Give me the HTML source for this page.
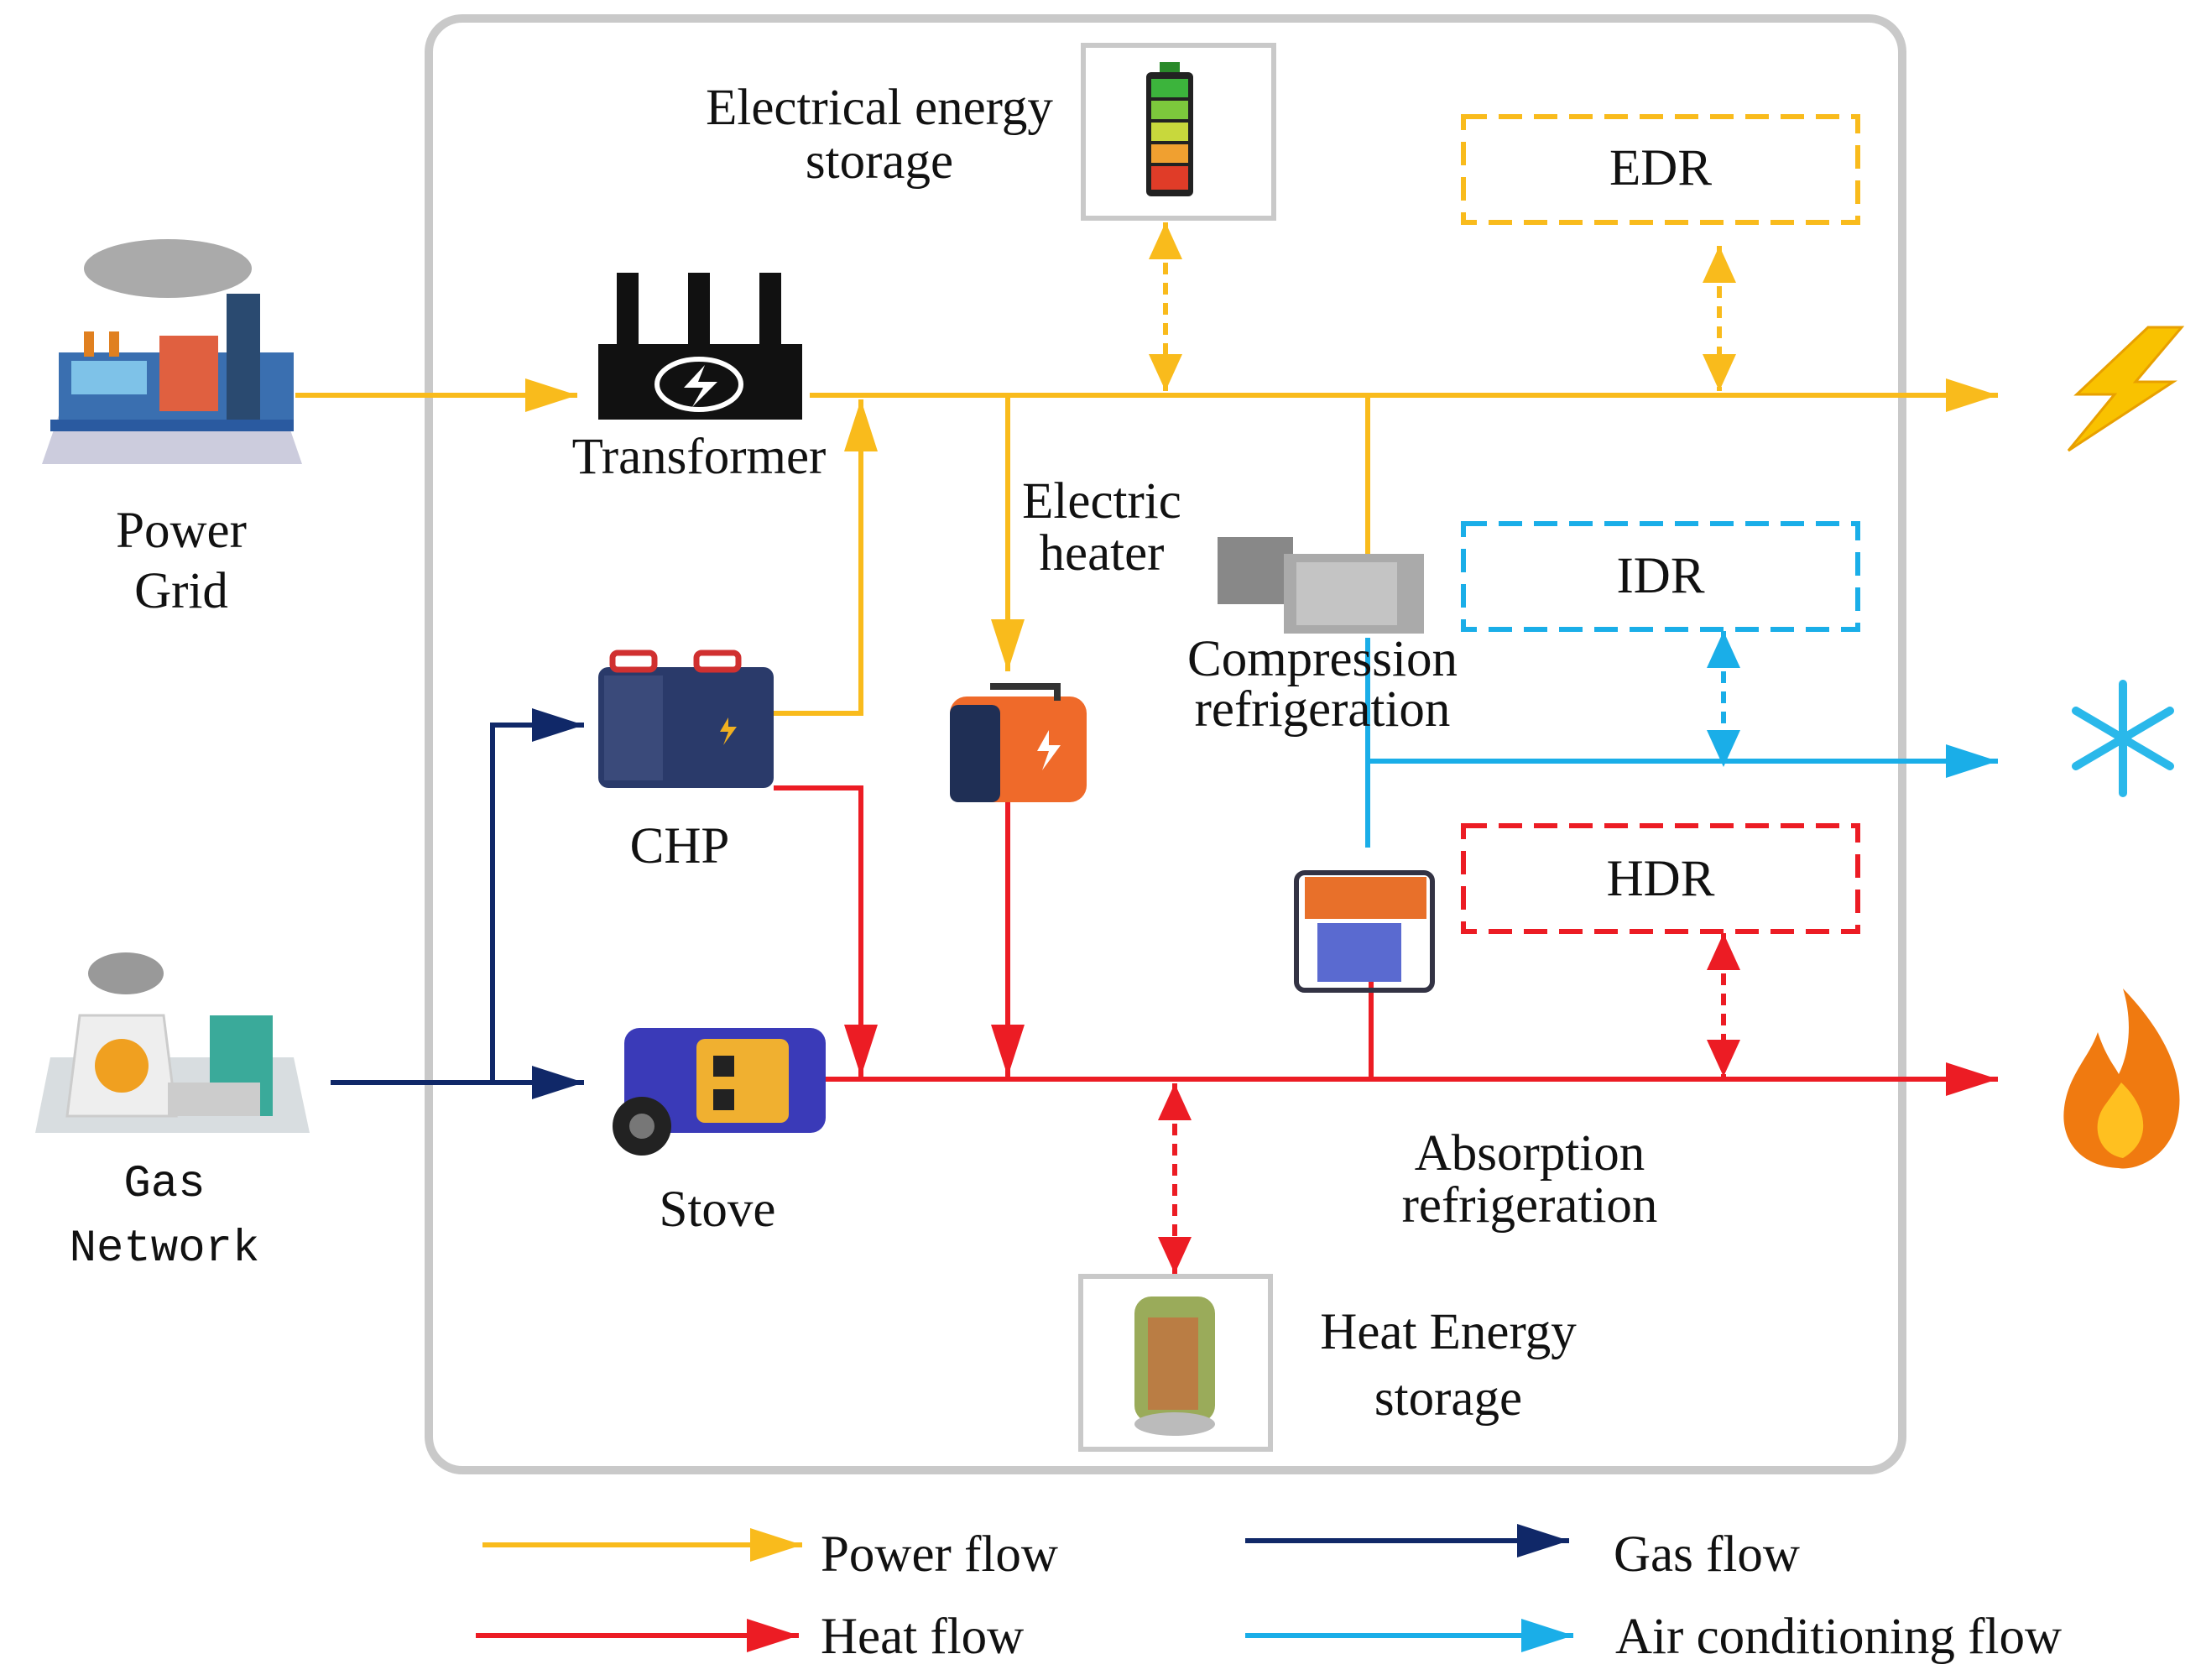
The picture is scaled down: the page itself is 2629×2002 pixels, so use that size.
<!DOCTYPE html>
<html><head><meta charset="utf-8"><style>
html,body{margin:0;padding:0;background:#fff}
svg text{font-family:"Liberation Serif",serif;font-size:61px;fill:#111}
</style></head><body>
<svg width="2629" height="1997" viewBox="0 0 2629 1997" xmlns="http://www.w3.org/2000/svg">
<defs>
<marker id="ay" markerWidth="62" markerHeight="40" refX="12" refY="4" orient="auto-start-reverse" markerUnits="userSpaceOnUse" viewBox="0 0 12 8" preserveAspectRatio="none"><path d="M0,0 L12,4 L0,8 z" fill="#f9bb1c"/></marker>
<marker id="ar" markerWidth="62" markerHeight="40" refX="12" refY="4" orient="auto-start-reverse" markerUnits="userSpaceOnUse" viewBox="0 0 12 8" preserveAspectRatio="none"><path d="M0,0 L12,4 L0,8 z" fill="#ec1c24"/></marker>
<marker id="ab" markerWidth="62" markerHeight="40" refX="12" refY="4" orient="auto-start-reverse" markerUnits="userSpaceOnUse" viewBox="0 0 12 8" preserveAspectRatio="none"><path d="M0,0 L12,4 L0,8 z" fill="#1aaee8"/></marker>
<marker id="an" markerWidth="62" markerHeight="40" refX="12" refY="4" orient="auto-start-reverse" markerUnits="userSpaceOnUse" viewBox="0 0 12 8" preserveAspectRatio="none"><path d="M0,0 L12,4 L0,8 z" fill="#102868"/></marker>
<marker id="dy" markerWidth="44" markerHeight="40" refX="12" refY="4" orient="auto-start-reverse" markerUnits="userSpaceOnUse" viewBox="0 0 12 8" preserveAspectRatio="none"><path d="M0,0 L12,4 L0,8 z" fill="#f9bb1c"/></marker>
<marker id="dr" markerWidth="44" markerHeight="40" refX="12" refY="4" orient="auto-start-reverse" markerUnits="userSpaceOnUse" viewBox="0 0 12 8" preserveAspectRatio="none"><path d="M0,0 L12,4 L0,8 z" fill="#ec1c24"/></marker>
<marker id="db" markerWidth="44" markerHeight="40" refX="12" refY="4" orient="auto-start-reverse" markerUnits="userSpaceOnUse" viewBox="0 0 12 8" preserveAspectRatio="none"><path d="M0,0 L12,4 L0,8 z" fill="#1aaee8"/></marker>
</defs>
<style>
.y{stroke:#f9bb1c;stroke-width:6;fill:none}
.r{stroke:#ec1c24;stroke-width:6;fill:none}
.b{stroke:#1aaee8;stroke-width:6;fill:none}
.n{stroke:#102868;stroke-width:6;fill:none}
</style>
<rect x="511" y="22" width="1756" height="1730" rx="40" fill="none" stroke="#c9c9c9" stroke-width="10"/>

<line class="y" x1="352" y1="471" x2="688" y2="471" marker-end="url(#ay)"/>
<line class="y" x1="965" y1="471" x2="2381" y2="471" marker-end="url(#ay)"/>
<path class="y" d="M922,850 H1026 V476" marker-end="url(#ay)"/>
<line class="y" x1="1201" y1="471" x2="1201" y2="800" marker-end="url(#ay)"/>
<line class="y" x1="1630" y1="471" x2="1630" y2="670"/>
<line class="y" x1="1389" y1="265" x2="1389" y2="466" stroke-dasharray="14,10" marker-start="url(#dy)" marker-end="url(#dy)"/>
<line class="y" x1="2049" y1="293" x2="2049" y2="466" stroke-dasharray="14,10" marker-start="url(#dy)" marker-end="url(#dy)"/>
<line class="b" x1="2054" y1="752" x2="2054" y2="914" stroke-dasharray="14,10" marker-start="url(#db)" marker-end="url(#db)"/>
<line class="r" x1="2054" y1="1112" x2="2054" y2="1283" stroke-dasharray="14,10" marker-start="url(#dr)" marker-end="url(#dr)"/>
<line class="r" x1="1400" y1="1291" x2="1400" y2="1518" stroke-dasharray="14,10" marker-start="url(#dr)" marker-end="url(#dr)"/>
<line class="b" x1="1630" y1="760" x2="1630" y2="1010"/>
<line class="b" x1="1630" y1="907" x2="2381" y2="907" marker-end="url(#ab)"/>
<line class="r" x1="930" y1="1286" x2="2381" y2="1286" marker-end="url(#ar)"/>
<path class="r" d="M922,939 H1026 V1283" marker-end="url(#ar)"/>
<line class="r" x1="1201" y1="955" x2="1201" y2="1283" marker-end="url(#ar)"/>
<line class="r" x1="1634" y1="1160" x2="1634" y2="1286"/>
<line class="n" x1="394" y1="1290" x2="696" y2="1290" marker-end="url(#an)"/>
<path class="n" d="M587,1290 V864 H696" marker-end="url(#an)"/>

<rect x="1744" y="139" width="470" height="126" fill="none" stroke="#f9bb1c" stroke-width="6" stroke-dasharray="28,14"/>
<rect x="1744" y="624" width="470" height="126" fill="none" stroke="#1aaee8" stroke-width="6" stroke-dasharray="28,14"/>
<rect x="1744" y="984" width="470" height="126" fill="none" stroke="#ec1c24" stroke-width="6" stroke-dasharray="28,14"/>
<text x="1979" y="220" text-anchor="middle">EDR</text>
<text x="1979" y="706" text-anchor="middle">IDR</text>
<text x="1979" y="1067" text-anchor="middle">HDR</text>

<rect x="1291" y="54" width="227" height="206" fill="#fff" stroke="#c9c9c9" stroke-width="6"/>
<rect x="1382" y="74" width="24" height="12" fill="#2a8a2a"/>
<rect x="1366" y="86" width="56" height="148" rx="6" fill="#222"/>
<rect x="1372" y="94" width="44" height="22" fill="#3cb43c"/>
<rect x="1372" y="120" width="44" height="22" fill="#7cc83c"/>
<rect x="1372" y="146" width="44" height="22" fill="#c8d83c"/>
<rect x="1372" y="172" width="44" height="22" fill="#f0a030"/>
<rect x="1372" y="198" width="44" height="28" fill="#e03c28"/>
<rect x="1288" y="1521" width="226" height="206" fill="#fff" stroke="#c9c9c9" stroke-width="6"/>
<rect x="1352" y="1545" width="96" height="150" rx="20" fill="#9aab5a"/>
<rect x="1368" y="1570" width="60" height="110" fill="#c86a3a" opacity="0.7"/>
<ellipse cx="1400" cy="1697" rx="48" ry="14" fill="#bbb"/>

<polygon points="50,553 360,553 340,495 70,495" fill="#ccd"/>
<rect x="70" y="420" width="280" height="80" fill="#3a6fb0"/>
<rect x="85" y="430" width="90" height="40" fill="#7ec2e8"/>
<rect x="190" y="400" width="70" height="90" fill="#e06040"/>
<rect x="270" y="350" width="40" height="150" fill="#2a4a70"/>
<rect x="100" y="395" width="12" height="30" fill="#e08020"/><rect x="130" y="395" width="12" height="30" fill="#e08020"/>
<ellipse cx="200" cy="320" rx="100" ry="35" fill="#aaa"/>
<rect x="60" y="500" width="290" height="14" fill="#2a5aa0"/>
<polygon points="42,1350 369,1350 350,1260 60,1260" fill="#d8dde0"/>
<ellipse cx="150" cy="1160" rx="45" ry="25" fill="#999"/>
<path d="M80,1330 L95,1210 H195 L210,1330 Z" fill="#eee" stroke="#ccc" stroke-width="3"/>
<circle cx="145" cy="1270" r="32" fill="#f0a020"/>
<rect x="250" y="1210" width="75" height="120" fill="#3aaa9a"/>
<rect x="200" y="1290" width="110" height="40" fill="#ccc"/>
<text x="216" y="652" text-anchor="middle">Power</text>
<text x="216" y="724" text-anchor="middle">Grid</text>
<text x="196" y="1425" text-anchor="middle" style="font-family:'Liberation Mono',monospace;font-size:54px">Gas</text>
<text x="196" y="1502" text-anchor="middle" style="font-family:'Liberation Mono',monospace;font-size:54px">Network</text>

<rect x="713" y="410" width="243" height="90" fill="#111"/>
<rect x="735" y="325" width="26" height="90" fill="#111"/>
<rect x="820" y="325" width="26" height="90" fill="#111"/>
<rect x="905" y="325" width="26" height="90" fill="#111"/>
<ellipse cx="833" cy="458" rx="50" ry="30" fill="none" stroke="#fff" stroke-width="6"/>
<path d="M840,435 L815,462 H838 L825,485 L855,455 H832 Z" fill="#fff"/>
<text x="833" y="564" text-anchor="middle">Transformer</text>

<rect x="713" y="795" width="209" height="144" rx="12" fill="#2a3a6a"/>
<rect x="720" y="805" width="70" height="125" fill="#3a4a7a"/>
<rect x="730" y="778" width="50" height="20" rx="6" fill="none" stroke="#d03030" stroke-width="7"/>
<rect x="830" y="778" width="50" height="20" rx="6" fill="none" stroke="#d03030" stroke-width="7"/>
<path d="M868,855 L858,872 H868 L862,888 L878,866 H868 Z" fill="#f0b020"/>
<text x="810" y="1028" text-anchor="middle">CHP</text>

<rect x="1132" y="830" width="163" height="126" rx="20" fill="#ef6a2a"/>
<rect x="1132" y="840" width="60" height="116" rx="10" fill="#1f2f55"/>
<path d="M1180,818 H1260 V835" fill="none" stroke="#333" stroke-width="8"/>
<path d="M1250,870 L1236,895 H1250 L1242,918 L1264,888 H1250 Z" fill="#fff"/>
<text x="1313" y="617" text-anchor="middle">Electric</text>
<text x="1313" y="679" text-anchor="middle">heater</text>

<rect x="1451" y="640" width="90" height="80" fill="#888"/>
<rect x="1530" y="660" width="167" height="95" fill="#aaa"/>
<rect x="1545" y="670" width="120" height="75" fill="#c4c4c4"/>
<text x="1576" y="805" text-anchor="middle">Compression</text>
<text x="1576" y="865" text-anchor="middle">refrigeration</text>

<rect x="1545" y="1040" width="162" height="140" rx="10" fill="none" stroke="#334" stroke-width="6"/>
<rect x="1555" y="1045" width="145" height="50" fill="#e8702a"/>
<rect x="1570" y="1100" width="100" height="70" fill="#5a6ad0"/>
<text x="1823" y="1394" text-anchor="middle">Absorption</text>
<text x="1823" y="1456" text-anchor="middle">refrigeration</text>

<rect x="744" y="1225" width="240" height="125" rx="18" fill="#3a3ab8"/>
<rect x="830" y="1238" width="110" height="100" rx="10" fill="#f0b030"/>
<rect x="850" y="1258" width="25" height="25" fill="#222"/><rect x="850" y="1298" width="25" height="25" fill="#222"/>
<circle cx="765" cy="1342" r="35" fill="#222"/><circle cx="765" cy="1342" r="15" fill="#777"/>
<text x="855" y="1461" text-anchor="middle">Stove</text>

<text x="1048" y="148" text-anchor="middle">Electrical energy</text>
<text x="1048" y="212" text-anchor="middle">storage</text>
<text x="1726" y="1607" text-anchor="middle">Heat Energy</text>
<text x="1726" y="1686" text-anchor="middle">storage</text>

<path d="M2560,390 L2600,390 L2545,455 L2590,455 L2465,537 L2520,470 L2475,470 Z" fill="#f9c200" stroke="#e8a000" stroke-width="3"/>
<g stroke="#2ab8ea" stroke-width="10" stroke-linecap="round">
<line x1="2530" y1="815" x2="2530" y2="945"/>
<line x1="2474" y1="847" x2="2586" y2="913"/>
<line x1="2474" y1="913" x2="2586" y2="847"/>
</g>
<path d="M2530,1178 C2590,1240 2610,1300 2590,1350 C2575,1385 2540,1395 2525,1392 C2480,1390 2455,1360 2460,1320 C2465,1280 2490,1260 2500,1230 C2510,1260 2520,1270 2525,1280 C2540,1250 2540,1210 2530,1178 Z" fill="#f07a10"/>
<path d="M2528,1290 C2560,1320 2565,1360 2530,1380 C2500,1375 2490,1340 2510,1315 Z" fill="#ffc020"/>

<line class="y" x1="575" y1="1841" x2="956" y2="1841" marker-end="url(#ay)"/>
<line class="n" x1="1484" y1="1836" x2="1870" y2="1836" marker-end="url(#an)"/>
<line class="r" x1="567" y1="1949" x2="952" y2="1949" marker-end="url(#ar)"/>
<line class="b" x1="1484" y1="1949" x2="1875" y2="1949" marker-end="url(#ab)"/>
<text x="978" y="1872">Power flow</text>
<text x="1923" y="1872">Gas flow</text>
<text x="978" y="1970">Heat flow</text>
<text x="1925" y="1970">Air conditioning flow</text>
</svg>
</body></html>
